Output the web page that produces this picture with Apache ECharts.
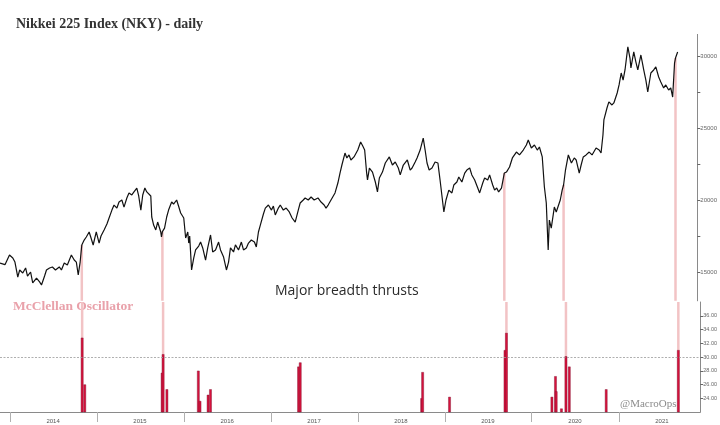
<!DOCTYPE html>
<html>
<head>
<meta charset="utf-8">
<script src="https://cdn.jsdelivr.net/npm/echarts@6/dist/echarts.min.js"></script>
<style>
  html, body { margin: 0; padding: 0; background: #fff; }
  #chart { width: 720px; height: 425px; }
</style>
</head>
<body>
<div id="chart"></div>
<script>
// Nikkei 225 (roughly every 1-2 weeks)
const priceDates = [
  '2013-11-20', '2013-12-11', '2013-12-30', '2014-01-13', '2014-01-22', '2014-02-03', '2014-02-11', '2014-02-24',
  '2014-03-08', '2014-03-16', '2014-03-29', '2014-04-07', '2014-04-23', '2014-05-06', '2014-05-14', '2014-05-27',
  '2014-06-04', '2014-06-17', '2014-06-29', '2014-07-12', '2014-07-28', '2014-08-06', '2014-08-18', '2014-08-31',
  '2014-09-17', '2014-09-29', '2014-10-08', '2014-10-16', '2014-10-24', '2014-10-31', '2014-11-10', '2014-11-19',
  '2014-12-01', '2014-12-09', '2014-12-18', '2014-12-31', '2015-01-12', '2015-01-20', '2015-02-02', '2015-02-14',
  '2015-02-23', '2015-03-07', '2015-03-16', '2015-03-28', '2015-04-06', '2015-04-18', '2015-04-27', '2015-05-09',
  '2015-05-18', '2015-05-30', '2015-06-08', '2015-06-20', '2015-06-28', '2015-07-07', '2015-07-15', '2015-07-24',
  '2015-08-01', '2015-08-09', '2015-08-18', '2015-08-22', '2015-08-30', '2015-09-08', '2015-09-16', '2015-09-29',
  '2015-10-02', '2015-10-06', '2015-10-15', '2015-10-24', '2015-11-01', '2015-11-14', '2015-11-22', '2015-12-05',
  '2015-12-13', '2015-12-22', '2016-01-04', '2016-01-12', '2016-01-21', '2016-01-25', '2016-01-29', '2016-02-06',
  '2016-02-15', '2016-02-23', '2016-03-07', '2016-03-15', '2016-03-24', '2016-04-05', '2016-04-14', '2016-04-26',
  '2016-05-05', '2016-05-17', '2016-05-30', '2016-06-07', '2016-06-20', '2016-07-02', '2016-07-11', '2016-07-19',
  '2016-08-01', '2016-08-09', '2016-08-22', '2016-09-03', '2016-09-12', '2016-09-24', '2016-10-03', '2016-10-15',
  '2016-10-28', '2016-11-05', '2016-11-14', '2016-11-22', '2016-12-05', '2016-12-13', '2016-12-26', '2017-01-08',
  '2017-01-16', '2017-01-24', '2017-02-06', '2017-02-14', '2017-02-27', '2017-03-11', '2017-03-24', '2017-04-05',
  '2017-04-18', '2017-05-01', '2017-05-09', '2017-05-22', '2017-05-30', '2017-06-12', '2017-06-24', '2017-07-07',
  '2017-07-23', '2017-08-05', '2017-08-18', '2017-08-26', '2017-09-04', '2017-09-16', '2017-10-03', '2017-10-15',
  '2017-10-24', '2017-11-01', '2017-11-14', '2017-11-22', '2017-12-01', '2017-12-09', '2017-12-22', '2018-01-07',
  '2018-01-19', '2018-01-28', '2018-02-05', '2018-02-13', '2018-02-17', '2018-02-25', '2018-03-10', '2018-03-22',
  '2018-03-31', '2018-04-08', '2018-04-21', '2018-05-03', '2018-05-20', '2018-06-02', '2018-06-14', '2018-06-27',
  '2018-07-05', '2018-07-18', '2018-08-04', '2018-08-16', '2018-08-24', '2018-09-06', '2018-09-14', '2018-09-27',
  '2018-10-10', '2018-10-18', '2018-10-26', '2018-11-04', '2018-11-16', '2018-11-29', '2018-12-11', '2018-12-20',
  '2019-01-05', '2019-01-14', '2019-01-26', '2019-02-08', '2019-02-16', '2019-03-01', '2019-03-09', '2019-03-22',
  '2019-04-03', '2019-04-12', '2019-04-24', '2019-05-03', '2019-05-15', '2019-05-28', '2019-06-05', '2019-06-18',
  '2019-06-26', '2019-07-09', '2019-07-17', '2019-07-30', '2019-08-07', '2019-08-16', '2019-08-24', '2019-09-05',
  '2019-09-17', '2019-09-26', '2019-10-09', '2019-10-21', '2019-11-07', '2019-11-20', '2019-12-06', '2019-12-19',
  '2019-12-27', '2020-01-09', '2020-01-22', '2020-02-03', '2020-02-12', '2020-02-24', '2020-03-04', '2020-03-12',
  '2020-03-20', '2020-03-25', '2020-04-02', '2020-04-06', '2020-04-15', '2020-04-23', '2020-05-01', '2020-05-10',
  '2020-05-18', '2020-05-24', '2020-06-01', '2020-06-13', '2020-06-26', '2020-07-08', '2020-07-16', '2020-07-29',
  '2020-08-06', '2020-08-15', '2020-08-27', '2020-09-09', '2020-09-21', '2020-10-08', '2020-10-21', '2020-10-29',
  '2020-11-06', '2020-11-10', '2020-11-23', '2020-12-01', '2020-12-14', '2020-12-22', '2021-01-05', '2021-01-13',
  '2021-01-22', '2021-01-30', '2021-02-07', '2021-02-19', '2021-02-28', '2021-03-04', '2021-03-16', '2021-03-25',
  '2021-04-02', '2021-04-15', '2021-04-23', '2021-04-27', '2021-05-06', '2021-05-14', '2021-05-27', '2021-06-08',
  '2021-06-17', '2021-06-29', '2021-07-08', '2021-07-20', '2021-07-29', '2021-08-10', '2021-08-19', '2021-08-27',
  '2021-09-04', '2021-09-08', '2021-09-17'
]
const priceValues = [
  15625, 15510, 16180, 15970, 15690, 14650, 15140, 14930,
  15280, 14720, 15000, 14240, 14580, 14310, 14100, 14720,
  15140, 15280, 15350, 15140, 15350, 15140, 15625, 15490,
  16180, 15830, 15690, 14790, 15690, 16875, 17220, 17430,
  17780, 17360, 16875, 17780, 17010, 17500, 17920, 18330,
  18750, 19300, 19650, 19440, 19860, 20000, 19510, 20140,
  20490, 20350, 20560, 20830, 20280, 19300, 20350, 20830,
  20560, 20690, 20280, 18820, 18260, 17920, 18470, 17780,
  17430, 17800, 18050, 18820, 19300, 19860, 19720, 20000,
  19580, 19100, 18750, 17360, 17780, 17010, 17500, 15140,
  15970, 16530, 16800, 17080, 16670, 15830, 16670, 17570,
  16390, 16530, 17080, 16530, 16040, 15140, 15690, 16670,
  16390, 16880, 16530, 17080, 16530, 16670, 17010, 17220,
  17080, 16740, 17780, 18260, 19030, 19440, 19650, 19300,
  19580, 18960, 19440, 19650, 19300, 19440, 19170, 18750,
  18470, 19300, 19790, 20000, 20140, 20000, 20210, 20000,
  20140, 19860, 19650, 19440, 19650, 20000, 20490, 21180,
  21870, 22430, 23260, 22920, 23130, 22780, 22990, 23470,
  24030, 23750, 23470, 21940, 21390, 22220, 21940, 21250,
  20560, 21530, 21940, 22570, 22990, 22430, 22640, 22220,
  21740, 22430, 22780, 22080, 22220, 22640, 22920, 23470,
  24300, 23470, 22570, 22080, 22220, 22640, 22570, 21390,
  19170, 20000, 20690, 20490, 21040, 21250, 21600, 21250,
  21870, 22080, 22220, 21740, 21390, 20830, 20490, 21180,
  21530, 21390, 21740, 21040, 20690, 20830, 20560, 20830,
  21870, 21940, 22290, 22920, 23330, 23130, 23470, 23820,
  24170, 23610, 23820, 23470, 23680, 22990, 20900, 19790,
  16530, 18610, 18050, 17920, 19510, 19170, 19300, 20000,
  20690, 21040, 22080, 23130, 22570, 22920, 22780, 21870,
  22430, 22990, 23130, 23330, 23130, 23610, 23470, 23260,
  24510, 25560, 26390, 26810, 26600, 26740, 27430, 27990,
  28820, 28330, 29030, 30630, 29860, 29170, 30280, 29580,
  29030, 30070, 29380, 29030, 28330, 27500, 28820, 29030,
  29240, 28540, 28190, 27780, 27990, 27640, 27780, 27150,
  29510, 29860, 30280
]

// McClellan oscillator spikes (lower panel)
const oscDates = [
  '2014-10-31', '2014-11-11', '2015-10-02', '2015-10-06', '2015-10-22', '2016-03-02', '2016-03-09', '2016-04-12',
  '2016-04-22', '2017-04-27', '2017-05-04', '2018-09-26', '2018-09-30', '2019-01-21', '2019-09-11', '2019-09-17',
  '2020-03-26', '2020-04-10', '2020-04-13', '2020-05-05', '2020-05-24', '2020-06-07', '2020-11-09', '2021-09-08'
]
const oscValues = [
  32.8, 26.0, 27.7, 30.4, 25.3, 28.0, 23.6, 24.5,
  25.3, 28.6, 29.2, 24.0, 27.8, 24.2, 31.0, 33.5,
  24.2, 27.2, 25.0, 22.5, 30.1, 28.6, 25.3, 31.0
]

// major breadth thrusts (pink verticals)
const thrustDates = ['2014-10-31', '2015-10-06', '2019-09-17', '2020-05-24', '2021-09-08']

const priceTicks = [15000, 17500, 20000, 22500, 25000, 27500, 30000]
const priceLabels = [15000, 20000, 25000, 30000]
const yearTicks = [2014, 2015, 2016, 2017, 2018, 2019, 2020, 2021]

const oscMin = 22
const oscMax = 38
const oscLevel = 30

const ts = (d) => Date.parse(d + 'T00:00:00Z')
const xMin = ts('2013-11-20')
const xMax = ts('2021-12-09')

const myChart = echarts.init(document.getElementById('chart'))

const priceData = priceDates.map((d, i) => [ts(d), priceValues[i]])
const thrustTop = thrustDates.map(d => [ts(d), priceValues[priceDates.indexOf(d)]])
const thrustLow = thrustDates.map(d => [ts(d), oscMax])
const oscData = oscDates.map((d, i) => [ts(d), oscValues[i]])

const axisGrey = '#8a8a8a'
const pink = '#f2c3c5'

const options = {
  animation: false,
  backgroundColor: '#fff',
  title: {
    text: 'Nikkei 225 Index (NKY) - daily',
    left: 16,
    top: 17,
    padding: 0,
    textStyle: {
      fontFamily: 'Liberation Serif',
      fontWeight: 'bold',
      fontSize: 14,
      color: '#333'
    }
  },
  grid: [
    { left: 0, right: 18, top: 34.4, height: 266.4 },
    { left: 0, right: 18, top: 302, height: 110 }
  ],
  xAxis: [
    {
      type: 'value',
      gridIndex: 0,
      min: xMin,
      max: xMax,
      show: false
    },
    {
      type: 'value',
      gridIndex: 1,
      min: xMin,
      max: xMax,
      splitLine: { show: false },
      axisLine: { lineStyle: { color: axisGrey, width: 1 } },
      axisTick: {
        customValues: yearTicks.map(y => Date.UTC(y, 0, 1)),
        length: 10,
        lineStyle: { color: '#b0b0b0' }
      },
      axisLabel: {
        customValues: yearTicks.map(y => Date.UTC(y, 6, 1)),
        formatter: (v) => String(new Date(v).getUTCFullYear()),
        fontSize: 6,
        color: '#555',
        margin: 6
      }
    }
  ],
  yAxis: [
    {
      type: 'value',
      gridIndex: 0,
      position: 'right',
      min: 13000,
      max: 31500,
      splitLine: { show: false },
      axisLine: { show: true, lineStyle: { color: axisGrey } },
      axisTick: {
        show: true,
        customValues: priceTicks,
        length: 3,
        lineStyle: { color: '#666' }
      },
      axisLabel: {
        customValues: priceLabels,
        formatter: (v) => String(v),
        fontSize: 6,
        color: '#666',
        margin: 3
      }
    },
    {
      type: 'value',
      gridIndex: 1,
      position: 'right',
      min: oscMin,
      max: oscMax,
      interval: 2,
      splitLine: { show: false },
      axisLine: { show: true, lineStyle: { color: axisGrey } },
      axisTick: { show: true, length: 3, lineStyle: { color: '#666' } },
      axisLabel: {
        fontSize: 5.5,
        color: '#666',
        margin: 3,
        showMinLabel: false,
        showMaxLabel: false,
        formatter: (v) => v.toFixed(2)
      }
    }
  ],
  series: [
    {
      name: 'thrust-top',
      type: 'bar',
      xAxisIndex: 0,
      yAxisIndex: 0,
      data: thrustTop,
      barWidth: 2.5,
      itemStyle: { color: pink },
      silent: true,
      z: 1
    },
    {
      name: 'NKY',
      type: 'line',
      xAxisIndex: 0,
      yAxisIndex: 0,
      data: priceData,
      showSymbol: false,
      lineStyle: { color: '#111', width: 1.2 },
      z: 3
    },
    {
      name: 'thrust-low',
      type: 'bar',
      xAxisIndex: 1,
      yAxisIndex: 1,
      data: thrustLow,
      barWidth: 2.5,
      barGap: '-100%',
      itemStyle: { color: pink },
      silent: true,
      z: 1
    },
    {
      name: 'McClellan',
      type: 'bar',
      xAxisIndex: 1,
      yAxisIndex: 1,
      data: oscData,
      barWidth: 2.5,
      barGap: '-100%',
      itemStyle: { color: '#d6123c', borderColor: '#7c1230', borderWidth: 0.4 },
      z: 2,
      markLine: {
        silent: true,
        symbol: 'none',
        label: { show: false },
        lineStyle: { color: '#9a9a9a', type: [2, 1.5], width: 0.8 },
        data: [{ yAxis: oscLevel }]
      }
    }
  ],
  graphic: [
    {
      type: 'text',
      left: 13,
      top: 300,
      style: {
        text: 'McClellan Oscillator',
        fontFamily: 'Liberation Serif',
        fontWeight: 'bold',
        fontSize: 13.5,
        fill: '#e9a1aa'
      }
    },
    {
      type: 'text',
      left: 275,
      top: 284,
      style: {
        text: 'Major breadth thrusts',
        fontFamily: 'Open Sans',
        fontSize: 14,
        fill: '#2a2a2a'
      }
    },
    {
      type: 'text',
      left: 620,
      top: 399,
      z: 10,
      style: {
        text: '@MacroOps',
        fontFamily: 'Liberation Serif',
        fontSize: 11,
        fill: '#8c8c8c'
      }
    }
  ]
}

myChart.setOption(options)
</script>
</body>
</html>
